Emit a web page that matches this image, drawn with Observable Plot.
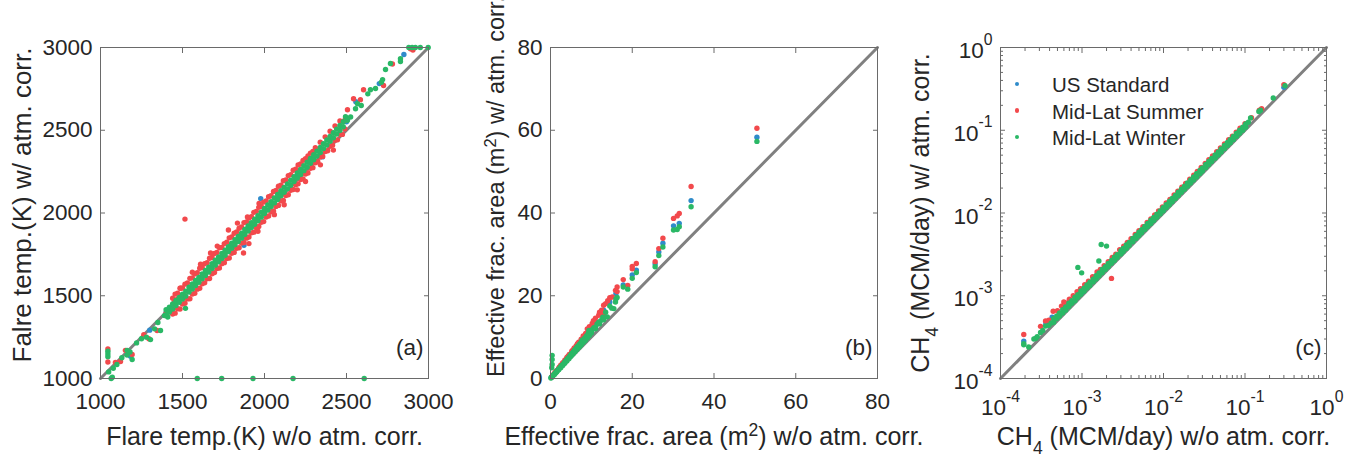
<!DOCTYPE html>
<html>
<head>
<meta charset="utf-8">
<script src="https://cdn.jsdelivr.net/npm/d3@7"></script>
<script src="https://cdn.jsdelivr.net/npm/@observablehq/plot@0.6"></script>
<style>
  html, body { margin: 0; padding: 0; background: #fff; }
  #wrap { position: relative; width: 1346px; height: 456px; overflow: hidden; background: #fff; font-family: 'Liberation Sans', Arial, Helvetica, sans-serif; }
  #wrap svg { position: absolute; top: 0; }
</style>
</head>
<body>
<div id="wrap"></div>
<script>
// ---------------- data ----------------
const seriesNames = ["US Standard", "Mid-Lat Summer", "Mid-Lat Winter"];
const seriesColors = ["#2f8bca", "#f2494c", "#2ab866"];

// Panel (a): flare temperature (K)
const aTicks = [1000, 1500, 2000, 2500, 3000];
const aDiag = [1000, 3000];
const aUSStandard = [[1183,1135],[1300,1292],[1400,1398],[1500,1494],[1600,1599],[1700,1702],[1800,1805],[1875,1805],[1900,1911],[1977,2087],[2000,2019],[2100,2125],[2160,2148],[2200,2230],[2300,2337],[2353,2339],[2400,2447],[2500,2551],[2557,2672],[2700,2782],[2850,2958]];
const aMidLatSummer = [
[1045,1178],[1045,1100],[1091,1097],[1122,1103],[1152,1170],[1193,1145],[1264,1265],[1295,1240],[1345,1290],[1400,1395],[1430,1400],[1450,1460],[1470,1480],[1490,1500],
[1440,1485],[1440,1390],[1470,1516],[1470,1421],[1500,1547],[1500,1450],[1530,1577],[1530,1481],[1560,1608],[1560,1510],[1590,1639],[1590,1540],[1620,1670],[1620,1572],[1650,1700],[1650,1602],[1680,1731],[1680,1633],[1710,1762],[1710,1664],[1740,1792],[1740,1694],[1770,1824],[1770,1725],[1800,1855],[1800,1756],[1830,1885],[1830,1787],[1860,1916],[1860,1818],[1890,1946],[1890,1848],[1920,1978],[1920,1880],[1950,2010],[1950,1911],[1980,2041],[1980,1944],[2010,2073],[2010,1976],[2040,2104],[2040,2008],[2070,2136],[2070,2040],[2100,2168],[2100,2073],[2130,2200],[2130,2105],[2160,2232],[2160,2137],[2190,2264],[2190,2170],[2220,2296],[2220,2202],[2250,2328],[2250,2236],[2280,2362],[2280,2270],[2310,2394],[2310,2304],[2340,2428],[2340,2338],[2370,2460],[2370,2372],[2400,2494],[2400,2404],[2430,2526],[2430,2440],[2460,2556],[2460,2476],[2490,2560],[2490,2508],
[1455,1510],[1455,1395],[1485,1545],[1485,1420],[1515,1570],[1515,1455],[1545,1605],[1545,1482],[1575,1632],[1575,1515],[1605,1666],[1605,1545],[1635,1693],[1635,1578],[1665,1727],[1665,1604],[1695,1755],[1695,1640],[1725,1790],[1725,1668],[1755,1815],[1755,1700],[1785,1850],[1785,1728],[1815,1878],[1815,1762],[1845,1908],[1845,1790],[1875,1942],[1875,1822],[1905,1970],[1905,1855],[1935,2004],[1935,1884],[1965,2034],[1965,1918],[1995,2066],[1995,1948],[2025,2098],[2025,1982],[2055,2130],[2055,2012],[2085,2162],[2085,2046],[2115,2195],[2115,2076],[2145,2226],[2145,2110],[2175,2258],[2175,2142],[2205,2290],[2205,2176],[2235,2318],[2235,2206],[2265,2345],[2265,2242],[2295,2372],[2295,2274],[2325,2310],[2355,2342],[2385,2376],[2415,2410],[2445,2442],[2475,2475],
[1515,1963],[1488,1545],[1560,1642],[1610,1690],[1671,1758],[1712,1800],[1780,1897],[1835,1939],[1896,1976],[1967,2057],[1872,1758],[1905,1815],[1960,1890],[2060,1990],[2120,2050],[2200,2140],[2250,2190],[2341,2291],[2420,2380],[2506,2624],[2543,2690],[2585,2685],[2604,2745],[2726,2770],[2780,2900],[2890,2992],[2905,2985]];
const aMidLatWinter = [
[1045,1165],[1045,1148],[1045,1132],[1065,1000],[1072,1008],[1050,1040],[1078,1062],[1100,1085],[1130,1125],[1162,1170],[1162,1142],[1193,1115],[1180,1160],[1220,1215],[1250,1240],[1280,1250],[1305,1235],[1330,1300],[1350,1338],[1366,1290],[1390,1380],[1410,1372],[1518,1424],
[1400,1386],[1400,1416],[1420,1402],[1420,1431],[1440,1420],[1440,1450],[1460,1441],[1460,1471],[1480,1460],[1480,1489],[1500,1480],[1500,1510],[1520,1498],[1520,1528],[1540,1522],[1540,1552],[1560,1541],[1560,1571],[1580,1562],[1580,1592],[1600,1581],[1600,1611],[1620,1602],[1620,1632],[1640,1623],[1640,1653],[1660,1643],[1660,1673],[1680,1664],[1680,1694],[1700,1685],[1700,1715],[1720,1705],[1720,1735],[1740,1725],[1740,1755],[1760,1745],[1760,1775],[1780,1767],[1780,1797],[1800,1787],[1800,1817],[1820,1808],[1820,1838],[1840,1828],[1840,1858],[1860,1848],[1860,1878],[1880,1870],[1880,1900],[1900,1891],[1900,1921],[1920,1912],[1920,1942],[1940,1932],[1940,1962],[1960,1953],[1960,1983],[1980,1975],[1980,2005],[2000,1997],[2000,2027],[2020,2018],[2020,2048],[2040,2039],[2040,2069],[2060,2061],[2060,2091],[2080,2082],[2080,2112],[2100,2104],[2100,2134],[2120,2125],[2120,2155],[2140,2146],[2140,2176],[2160,2168],[2160,2198],[2180,2190],[2180,2220],[2200,2212],[2200,2242],[2220,2233],[2220,2263],[2240,2256],[2240,2286],[2260,2277],[2260,2307],[2280,2300],[2280,2330],[2300,2322],[2300,2352],[2320,2344],[2320,2374],[2340,2366],[2340,2396],[2360,2389],[2360,2419],[2380,2411],[2380,2441],[2400,2433],[2400,2463],[2420,2455],[2420,2485],[2440,2477],[2440,2507],[2460,2499],[2460,2529],[2480,2521],[2480,2551],
[2494,2582],[2506,2560],[2525,2580],[2555,2630],[2567,2660],[2590,2650],[2630,2720],[2646,2745],[2677,2752],[2713,2790],[2720,2806],[2738,2867],[2768,2903],[2829,2915],[2829,2932],[2880,3000],[2900,3000],[2920,3000],[2950,3000],[2998,3000],
[1590,1000],[1739,1000],[1930,1000],[2174,1000],[2608,1000]];

// Panel (b): effective fractional area (m^2)
const bTicks = [0, 20, 40, 60, 80];
const bDiag = [0, 80];
const bUSStandard = [[0.2,0.3],[0.5,0.6],[1.5,1.8],[3,3.6],[5,6],[7,8.4],[9,11],[11,13.6],[13,16.5],[14.5,18.5],[16.0,20.5],[17.8,22.6],[20.0,25.0],[21.0,26.2],[25.6,27.7],[26.5,30.6],[27.5,32.7],[30.1,36.9],[31.5,37.5],[34.4,43.0],[50.5,58.3]];
const bMidLatSummer = [[0.3,0.4],[0.6,0.8],[0.8,1.0],[1.0,1.3],[1.2,1.5],[1.5,1.9],[2.0,2.5],[2.2,2.8],[2.5,3.2],[2.8,3.4],[3.0,3.8],[3.5,4.4],[3.8,4.6],[4.0,5.1],[4.3,5.4],[4.6,5.8],[5.2,6.6],[5.5,6.9],[5.8,7.4],[6.3,7.9],[6.6,8.4],[6.9,8.8],[7.2,8.6],[7.5,9.5],[8.0,10.3],[8.2,9.8],[8.6,10.9],[9.0,12.0],[9.5,12.5],[10.2,13.3],[10.5,14.0],[11.0,14.6],[11.5,13.5],[11.8,15.3],[12.0,16.0],[12.5,16.5],[13.0,15.5],[13.0,17.7],[13.5,18.1],[14.0,18.8],[14.5,19.5],[15.1,19.7],[15.9,21.3],[16.3,22.1],[16.3,21.0],[17.8,23.9],[18.9,22.5],[20.0,27.1],[20.0,26.5],[21.0,27.8],[25.6,28.2],[26.5,31.4],[27.5,33.9],[30.1,38.7],[31.0,39.3],[31.5,39.9],[34.4,46.4],[50.5,60.5]];
const bMidLatWinter = [[0.4,5.6],[0.4,4.6],[0.4,3.4],[0.3,2.6],
[0.1,0.1],[0.2,0.25],[0.4,0.45],[0.6,0.7],[0.8,0.9],[1.0,1.1],[1.2,1.35],[1.4,1.6],[1.6,1.8],[1.8,2.05],[2.0,2.25],[2.3,2.6],[2.6,2.95],[2.9,3.3],[3.2,3.6],[3.5,4.0],[3.8,4.3],[4.1,4.7],[4.4,5.0],[4.7,5.4],[5.0,5.8],[5.3,6.1],[5.6,6.5],[5.9,6.9],[6.2,7.2],[6.5,7.6],[6.8,7.9],[7.1,8.3],[7.4,8.6],[7.7,9.2],[8.0,9.4],[8.4,9.8],[8.8,10.3],[9.2,10.8],[9.4,11.6],[9.8,11.3],[10.2,11.8],[10.6,12.3],[11.0,12.4],[11.4,13.2],[11.8,13.6],[12.3,14.0],[12.8,14.8],[13.5,16.0],[13.9,14.9],[14.5,17.5],[15.0,17.0],[15.5,16.9],[15.9,18.5],[16.0,19.2],[16.3,19.6],[17.8,22.1],[18.9,21.6],[20.0,24.2],[21.0,25.6],[25.6,27.0],[26.5,29.7],[27.5,31.8],[30.1,35.9],[31.0,36.0],[31.5,36.7],[34.4,41.5],[50.5,57.3],
[0.5,0.5],[1.0,1.0],[1.5,1.55],[2.0,2.1],[2.5,2.6],[3.0,3.15],[3.5,3.7],[4.0,4.25],[4.5,4.8],[5.0,5.35],[5.5,5.9],[6.0,6.45],[6.5,7.0],[7.0,7.55],[7.5,8.1],[8.0,8.7],[8.5,9.2],[9.0,9.8],[9.5,10.4],[10.0,11.0],[11.0,12.0],[12.0,13.2],[13.0,14.2]];

// Panel (c): CH4 (MCM/day), log axes
const cTicks = [1e-4, 1e-3, 1e-2, 1e-1, 1];
const cTickLabels = ["10^{-4}", "10^{-3}", "10^{-2}", "10^{-1}", "10^{0}"];
const cMinorMultipliers = [2, 3, 4, 5, 6, 7, 8, 9];
const cDiag = [1e-4, 1];
const cUSStandard = [[1.93e-4,2.83e-4],[3.6e-4,4.6e-4],[4.3e-4,5.5e-4],[1e-3,1.1e-3],[3e-3,3.3e-3],[1e-2,1.1e-2],[3e-2,3.3e-2],[0.1,0.11],[0.3,0.33]];
const cMidLatSummer = [[1.93e-4,3.4e-4],[3.1e-4,4.27e-4],[3.57e-4,4.95e-4],[3.92e-4,5.05e-4],[4.43e-4,6.5e-4],[2.3e-3,1.62e-3],
[5.0e-4,6.6e-4],[5.6e-4,7.5e-4],[5.98e-4,8.4e-4],[6.3e-4,8.2e-4],[7.0e-4,9.1e-4],[7.8e-4,1.0e-3],[8.7e-4,1.12e-3],[9.6e-4,1.22e-3],[1.08e-3,1.36e-3],[1.2e-3,1.5e-3],[1.35e-3,1.7e-3],[1.53e-3,1.94e-3],[1.68e-3,2.08e-3],[1.87e-3,2.3e-3],[2.1e-3,2.58e-3],[2.35e-3,2.9e-3],[2.6e-3,3.18e-3],[2.9e-3,3.6e-3],[3.25e-3,3.97e-3],[3.6e-3,4.4e-3],[4.0e-3,4.9e-3],[4.5e-3,5.5e-3],[5.0e-3,6.1e-3],[5.6e-3,6.85e-3],[6.3e-3,7.7e-3],[7.0e-3,8.5e-3],[7.8e-3,9.5e-3],[8.7e-3,1.06e-2],[9.7e-3,1.18e-2],[1.08e-2,1.32e-2],[1.2e-2,1.46e-2],[1.35e-2,1.65e-2],[1.5e-2,1.83e-2],[1.68e-2,2.05e-2],[1.87e-2,2.28e-2],[2.1e-2,2.56e-2],[2.35e-2,2.87e-2],[2.6e-2,3.17e-2],[2.9e-2,3.54e-2],[3.25e-2,3.96e-2],[3.6e-2,4.4e-2],[4.0e-2,4.88e-2],[4.5e-2,5.5e-2],[5.0e-2,6.1e-2],[5.6e-2,6.83e-2],[6.3e-2,7.7e-2],[7.0e-2,8.5e-2],[7.8e-2,9.5e-2],[8.7e-2,0.106],[0.1,0.12],[0.12,0.142],[0.15,0.175],[0.16,0.182],[0.30,0.356]];
const cMidLatWinter = [[1.93e-4,2.63e-4],[1.93e-4,2.55e-4],[2.22e-4,2.4e-4],[2.57e-4,3.0e-4],[2.7e-4,3.05e-4],[2.82e-4,3.2e-4],[3.1e-4,3.6e-4],[3.3e-4,3.8e-4],[3.57e-4,4.3e-4],[3.92e-4,4.4e-4],[4.2e-4,4.7e-4],
[8.9e-4,2.2e-3],[9.9e-4,1.89e-3],[1.61e-3,2.63e-3],[1.72e-3,4.17e-3],[2.0e-3,3.98e-3],
[4.5e-4,4.8e-4],[4.5e-4,5.3e-4],[4.9e-4,5.3e-4],[4.9e-4,5.7e-4],[5.3e-4,5.7e-4],[5.3e-4,6.2e-4],[5.8e-4,6.2e-4],[5.8e-4,6.8e-4],[6.3e-4,6.7e-4],[6.3e-4,7.3e-4],[6.9e-4,7.4e-4],[6.9e-4,8.1e-4],[7.5e-4,8.1e-4],[7.5e-4,8.7e-4],[8.2e-4,8.7e-4],[8.2e-4,9.6e-4],[8.9e-4,9.6e-4],[8.9e-4,1.03e-3],[9.7e-4,1.04e-3],[9.7e-4,1.14e-3],[1.06e-3,1.13e-3],[1.06e-3,1.23e-3],[1.15e-3,1.24e-3],[1.15e-3,1.35e-3],[1.25e-3,1.33e-3],[1.25e-3,1.46e-3],[1.37e-3,1.47e-3],[1.37e-3,1.59e-3],[1.49e-3,1.59e-3],[1.49e-3,1.75e-3],[1.62e-3,1.74e-3],[1.62e-3,1.88e-3],[1.77e-3,1.89e-3],[1.77e-3,2.08e-3],[1.93e-3,2.07e-3],[1.93e-3,2.24e-3],[2.1e-3,2.24e-3],[2.1e-3,2.46e-3],[2.3e-3,2.47e-3],[2.3e-3,2.67e-3],[2.5e-3,2.67e-3],[2.5e-3,2.93e-3],[2.7e-3,2.9e-3],[2.7e-3,3.14e-3],[3.0e-3,3.2e-3],[3.0e-3,3.51e-3],[3.2e-3,3.43e-3],[3.2e-3,3.72e-3],[3.5e-3,3.73e-3],[3.5e-3,4.1e-3],[3.8e-3,4.08e-3],[3.8e-3,4.42e-3],[4.2e-3,4.48e-3],[4.2e-3,4.91e-3],[4.6e-3,4.93e-3],[4.6e-3,5.36e-3],[5.0e-3,5.34e-3],[5.0e-3,5.85e-3],[5.4e-3,5.79e-3],[5.4e-3,6.29e-3],[5.9e-3,6.3e-3],[5.9e-3,6.9e-3],[6.4e-3,6.86e-3],[6.4e-3,7.46e-3],[7.0e-3,7.48e-3],[7.0e-3,8.18e-3],[7.6e-3,8.14e-3],[7.6e-3,8.86e-3],[8.3e-3,8.87e-3],[8.3e-3,9.7e-3],[9.1e-3,9.75e-3],[9.1e-3,1.06e-2],[9.9e-3,1.06e-2],[9.9e-3,1.16e-2],[1.08e-2,1.16e-2],[1.08e-2,1.26e-2],[1.18e-2,1.26e-2],[1.18e-2,1.38e-2],[1.28e-2,1.37e-2],[1.28e-2,1.5e-2],[1.4e-2,1.5e-2],[1.4e-2,1.63e-2],[1.52e-2,1.63e-2],[1.52e-2,1.78e-2],[1.66e-2,1.78e-2],[1.66e-2,1.94e-2],[1.81e-2,1.94e-2],[1.81e-2,2.11e-2],[1.97e-2,2.11e-2],[1.97e-2,2.3e-2],[2.15e-2,2.3e-2],[2.15e-2,2.51e-2],[2.34e-2,2.51e-2],[2.34e-2,2.73e-2],[2.55e-2,2.73e-2],[2.55e-2,2.98e-2],[2.8e-2,3.0e-2],[2.8e-2,3.26e-2],[3.0e-2,3.21e-2],[3.0e-2,3.5e-2],[3.3e-2,3.53e-2],[3.3e-2,3.85e-2],[3.6e-2,3.85e-2],[3.6e-2,4.2e-2],[3.9e-2,4.18e-2],[3.9e-2,4.55e-2],[4.3e-2,4.6e-2],[4.3e-2,5.02e-2],[4.7e-2,5.03e-2],[4.7e-2,5.48e-2],[5.1e-2,5.46e-2],[5.1e-2,5.95e-2],[5.6e-2,5.99e-2],[5.6e-2,6.53e-2],[6.1e-2,6.53e-2],[6.1e-2,7.1e-2],[6.6e-2,7.06e-2],[6.6e-2,7.7e-2],[7.2e-2,7.7e-2],[7.2e-2,8.4e-2],[7.9e-2,8.45e-2],[7.9e-2,9.2e-2],[8.6e-2,9.2e-2],[8.6e-2,1.0e-1],[9.4e-2,1.0e-1],[9.4e-2,1.09e-1],[0.102,0.109],[0.102,0.119],
[0.11,0.125],[0.117,0.141],[0.148,0.169],[0.155,0.175],[0.222,0.245],[0.31,0.345]];

// ---------------- drawing ----------------
const TXT = "#262626", AX = "#6a6a6a", LINE = "#808080";
const R = 2.7, TICK_FS = 22.5, LABEL_FS = 25;

function panel(cfg) {
  const xy = {x: d => d[0], y: d => d[1]};
  const tickOpts = {tickSize: -5, tickFormat: () => "", label: null, stroke: AX};
  const minorOpts = {tickSize: -3, tickFormat: () => "", label: null, stroke: AX};
  const marks = [
    Plot.line(cfg.diag, {x: d => d, y: d => d, stroke: LINE, strokeWidth: 3}),
    Plot.dot(cfg.series[0], {...xy, r: R, fill: seriesColors[0]}),
    Plot.dot(cfg.series[1], {...xy, r: R, fill: seriesColors[1]}),
    Plot.dot(cfg.series[2], {...xy, r: R, fill: seriesColors[2]}),
    Plot.frame({stroke: AX, strokeWidth: 1}),
    Plot.axisX(cfg.ticks, {anchor: "bottom", ...tickOpts}),
    Plot.axisX(cfg.ticks, {anchor: "top", ...tickOpts}),
    Plot.axisY(cfg.ticks, {anchor: "left", ...tickOpts}),
    Plot.axisY(cfg.ticks, {anchor: "right", ...tickOpts}),
    Plot.axisX(cfg.ticks, {anchor: "bottom", tickSize: 0, tickPadding: cfg.xPad, tickFormat: cfg.fmt, label: null, fill: TXT, strokeOpacity: 0, fontSize: TICK_FS}),
    Plot.axisY(cfg.ticks, {anchor: "left", tickSize: 0, tickPadding: 8, tickFormat: cfg.fmt, label: null, fill: TXT, strokeOpacity: 0, fontSize: TICK_FS, dy: cfg.yDy}),
    Plot.text([cfg.xLabel], {text: d => d, frameAnchor: "bottom", dy: 66.5, lineAnchor: "bottom", fontSize: LABEL_FS, fill: TXT}),
    Plot.text([cfg.yLabel], {text: d => d, frameAnchor: "left", rotate: -90, dx: cfg.yLabelDx, dy: cfg.yLabelDy, textAnchor: cfg.yLabelAnchor, lineAnchor: "bottom", fontSize: cfg.yLabelFs, fill: TXT}),
    Plot.text([cfg.tag], {text: d => d, frameAnchor: "bottom-right", dx: -5, dy: -24, textAnchor: "end", lineAnchor: "bottom", fontSize: TICK_FS, fill: TXT})
  ];
  if (cfg.minor) {
    marks.push(
      Plot.axisX(cfg.minor, {anchor: "bottom", ...minorOpts}),
      Plot.axisX(cfg.minor, {anchor: "top", ...minorOpts}),
      Plot.axisY(cfg.minor, {anchor: "left", ...minorOpts}),
      Plot.axisY(cfg.minor, {anchor: "right", ...minorOpts})
    );
  }
  const svg = Plot.plot({
    width: cfg.width, height: 456,
    marginLeft: 100, marginRight: cfg.mr, marginTop: 47, marginBottom: 78,
    x: {type: cfg.type, domain: cfg.domain},
    y: {type: cfg.type, domain: cfg.domain},
    style: {background: "transparent", overflow: "visible", fontFamily: "'Liberation Sans', Arial, Helvetica, sans-serif", color: TXT},
    marks
  });
  svg.style.left = cfg.left + "px";
  return svg;
}

function richify(nodes, supRaise, subDrop) {
  nodes.forEach(node => {
    const t = node.textContent;
    if (!/[\^_]\{/.test(t)) return;
    const size = parseFloat(getComputedStyle(node).fontSize) || 21;
    while (node.firstChild) node.removeChild(node.firstChild);
    const re = /([\^_])\{([^}]*)\}/g;
    let last = 0, m, cur = 0;
    const parts = [];
    while ((m = re.exec(t))) {
      if (m.index > last) parts.push(["", t.slice(last, m.index)]);
      parts.push([m[1], m[2]]);
      last = re.lastIndex;
    }
    if (last < t.length) parts.push(["", t.slice(last)]);
    for (const [k, s] of parts) {
      const off = k === "^" ? -supRaise * size : k === "_" ? subDrop * size : 0;
      const ts = document.createElementNS("http://www.w3.org/2000/svg", "tspan");
      ts.textContent = s;
      if (off !== cur) ts.setAttribute("dy", (off - cur).toFixed(2));
      if (k) ts.setAttribute("font-size", (0.7 * size).toFixed(2));
      node.appendChild(ts);
      cur = off;
    }
  });
}

const intFmt = d3.format("d");
const cMinor = cTicks.slice(0, 4).flatMap(d => cMinorMultipliers.map(mult => mult * d));
const wrap = document.getElementById("wrap");

const svgA = panel({
  left: 0, width: 450, mr: 22, type: "linear", domain: [1000, 3000], ticks: aTicks, fmt: intFmt, xPad: 15, yDy: 0,
  diag: aDiag, series: [aUSStandard, aMidLatSummer, aMidLatWinter],
  xLabel: "Flare temp.(K) w/o atm. corr.", yLabel: "Falre temp.(K) w/ atm. corr.",
  yLabelDx: -70, yLabelDy: -8, yLabelAnchor: "middle", yLabelFs: 26, tag: "(a)"
});
const svgB = panel({
  left: 450, width: 450, mr: 23, type: "linear", domain: [0, 80], ticks: bTicks, fmt: intFmt, xPad: 15, yDy: 0,
  diag: bDiag, series: [bUSStandard, bMidLatSummer, bMidLatWinter],
  xLabel: "Effective frac. area (m^{2}) w/o atm. corr.", yLabel: "Effective frac. area (m^{2}) w/ atm. corr.",
  yLabelDx: -46.5, yLabelDy: 164, yLabelAnchor: "start", yLabelFs: 23.5, tag: "(b)"
});
const svgC = panel({
  left: 900, width: 446, mr: 20, type: "log", domain: [1e-4, 1], ticks: cTicks,
  fmt: d => cTickLabels[cTicks.indexOf(d)], xPad: 21, yDy: 3.5, minor: cMinor,
  diag: cDiag, series: [cUSStandard, cMidLatSummer, cMidLatWinter],
  xLabel: "CH_{4} (MCM/day) w/o atm. corr.", yLabel: "CH_{4} (MCM/day) w/ atm. corr.",
  yLabelDx: -72, yLabelDy: 0, yLabelAnchor: "middle", yLabelFs: 25, tag: "(c)"
});
wrap.append(svgA, svgB, svgC);

for (const svg of [svgA, svgB, svgC]) {
  richify(svg.querySelectorAll('g[aria-label$="tick label"] text'), 0.6, 0.4);
  richify(svg.querySelectorAll('g[aria-label="text"] text'), 0.36, 0.36);
}

// legend inside panel (c)
seriesNames.forEach((name, i) => {
  const cy = 84 + 26.4 * i;
  const dot = document.createElement("div");
  Object.assign(dot.style, {position: "absolute", left: (1016.7 - 2.2) + "px", top: (cy - 2.2) + "px", width: "4.4px", height: "4.4px", borderRadius: "50%", background: seriesColors[i]});
  const lab = document.createElement("div");
  lab.textContent = name;
  Object.assign(lab.style, {position: "absolute", left: "1052px", top: (cy + 8.7 - 17.35) + "px", fontSize: "20.5px", lineHeight: "20.5px", color: TXT, whiteSpace: "nowrap"});
  wrap.append(dot, lab);
});
</script>
</body>
</html>
